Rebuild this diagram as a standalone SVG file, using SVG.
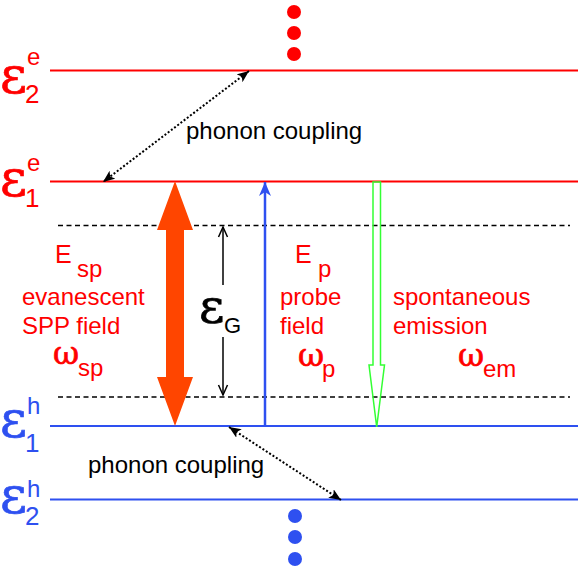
<svg xmlns="http://www.w3.org/2000/svg" width="581" height="571" viewBox="0 0 581 571">
<defs>
<style>
.red{fill:#FF0000}
.blue{fill:#2E50F0}
.sans{font-family:"Liberation Sans",Arial,sans-serif}
.greek{font-family:"DejaVu Serif","Liberation Serif",serif}
.red .greek{stroke:#FF0000;stroke-width:0.7}
.blue .greek{stroke:#2E50F0;stroke-width:0.7}
#text-gap .greek{stroke:#000;stroke-width:0.7}
.lvlR{stroke:#FF0000;stroke-width:2}
.lvlB{stroke:#2E50F0;stroke-width:2}
.dash{stroke:#000;stroke-width:1.5;stroke-dasharray:5,3.5}
.dot{stroke:#000;stroke-width:2;stroke-dasharray:2,2;fill:none}
</style>
<marker id="ah" viewBox="0 0 12 10" refX="12" refY="5" markerWidth="12" markerHeight="10" markerUnits="userSpaceOnUse" orient="auto-start-reverse">
<path d="M0,0 L12,5 L0,10 L3,5 Z" fill="#000"/>
</marker>
<marker id="ahb" viewBox="0 0 14 12" refX="14" refY="6" markerWidth="14" markerHeight="12" markerUnits="userSpaceOnUse" orient="auto">
<path d="M0,0 L14,6 L0,12 L4,6 Z" fill="#2E50F0"/>
</marker>
</defs>

<g id="levels">
<line class="lvlR" x1="50" y1="70.5" x2="578" y2="70.5"/>
<line class="lvlR" x1="50" y1="181.5" x2="578" y2="181.5"/>
<line class="lvlB" x1="50" y1="426" x2="578" y2="426"/>
<line class="lvlB" x1="50" y1="499.5" x2="578" y2="499.5"/>
<line class="dash" x1="58" y1="225.5" x2="570" y2="225.5"/>
<line class="dash" x1="58" y1="397" x2="570" y2="397"/>
</g>

<g id="label-e2e" class="red">
<text class="greek" x="0" y="93" font-size="52">ε</text>
<text class="sans" x="27" y="65" font-size="24">e</text>
<text class="sans" x="25" y="103" font-size="26">2</text>
</g>
<g id="label-e1e" class="red">
<text class="greek" x="0" y="196" font-size="52">ε</text>
<text class="sans" x="27" y="171" font-size="24">e</text>
<text class="sans" x="25" y="207" font-size="26">1</text>
</g>
<g id="label-e1h" class="blue">
<text class="greek" x="0" y="437" font-size="52">ε</text>
<text class="sans" x="27" y="414" font-size="24">h</text>
<text class="sans" x="25" y="452" font-size="26">1</text>
</g>
<g id="label-e2h" class="blue">
<text class="greek" x="0" y="513" font-size="52">ε</text>
<text class="sans" x="27" y="497" font-size="24">h</text>
<text class="sans" x="25" y="525" font-size="26">2</text>
</g>

<g id="dots-top" class="red">
<circle cx="294" cy="12" r="7"/>
<circle cx="294" cy="33" r="7"/>
<circle cx="294" cy="54" r="7"/>
</g>
<g id="dots-bottom" class="blue">
<circle cx="295" cy="516" r="7"/>
<circle cx="295" cy="537" r="7"/>
<circle cx="295" cy="559" r="7"/>
</g>

<g id="connectors">
<line class="dot" x1="249" y1="71" x2="103" y2="182" marker-start="url(#ah)" marker-end="url(#ah)"/>
<line class="dot" x1="229" y1="427" x2="341" y2="500" marker-start="url(#ah)" marker-end="url(#ah)"/>
<path id="sp-arrow" d="M175,181 L193,230 L184,230 L184,377 L193,377 L175,426 L157,377 L166,377 L166,230 L157,230 Z" fill="#FF4500"/>
<line id="probe-arrow" x1="265" y1="426" x2="265" y2="182" stroke="#2E50F0" stroke-width="2.5" marker-end="url(#ahb)"/>
<path id="em-arrow" d="M373,182 L380.5,182 L380.5,365 L384.5,365 L376.7,427 L369,365 L373,365 Z" fill="none" stroke="#33FF33" stroke-width="1.5"/>
<g id="gap-arrow" stroke="#000" stroke-width="1.5" fill="none">
<line x1="223" y1="227" x2="223" y2="285"/>
<polyline points="218.5,237 223,227 227.5,237"/>
<line x1="223" y1="337" x2="223" y2="395"/>
<polyline points="218.5,385 223,395 227.5,385"/>
</g>
</g>

<g id="text-phonon-top" class="sans" font-size="24">
<text x="186" y="139">phonon coupling</text>
</g>
<g id="text-phonon-bottom" class="sans" font-size="24">
<text x="88" y="473">phonon coupling</text>
</g>

<g id="text-sp" class="red">
<text class="sans" x="55" y="263" font-size="25">E</text>
<text class="sans" x="77" y="277" font-size="24">sp</text>
<text class="sans" x="22" y="305" font-size="24">evanescent</text>
<text class="sans" x="22" y="334" font-size="24">SPP field</text>
<text class="greek" x="53" y="364" font-size="32">ω</text>
<text class="sans" x="78" y="376" font-size="24">sp</text>
</g>

<g id="text-gap">
<text class="greek" x="199" y="323" font-size="49">ε</text>
<text class="sans" x="224" y="333" font-size="22">G</text>
</g>

<g id="text-probe" class="red">
<text class="sans" x="295" y="263" font-size="25">E</text>
<text class="sans" x="318" y="277" font-size="24">p</text>
<text class="sans" x="280" y="305" font-size="24">probe</text>
<text class="sans" x="280" y="334" font-size="24">field</text>
<text class="greek" x="298" y="366" font-size="32">ω</text>
<text class="sans" x="322" y="377" font-size="24">p</text>
</g>

<g id="text-em" class="red">
<text class="sans" x="393" y="305" font-size="24">spontaneous</text>
<text class="sans" x="393" y="334" font-size="24">emission</text>
<text class="greek" x="458" y="366" font-size="32">ω</text>
<text class="sans" x="483" y="377" font-size="24">em</text>
</g>
</svg>
